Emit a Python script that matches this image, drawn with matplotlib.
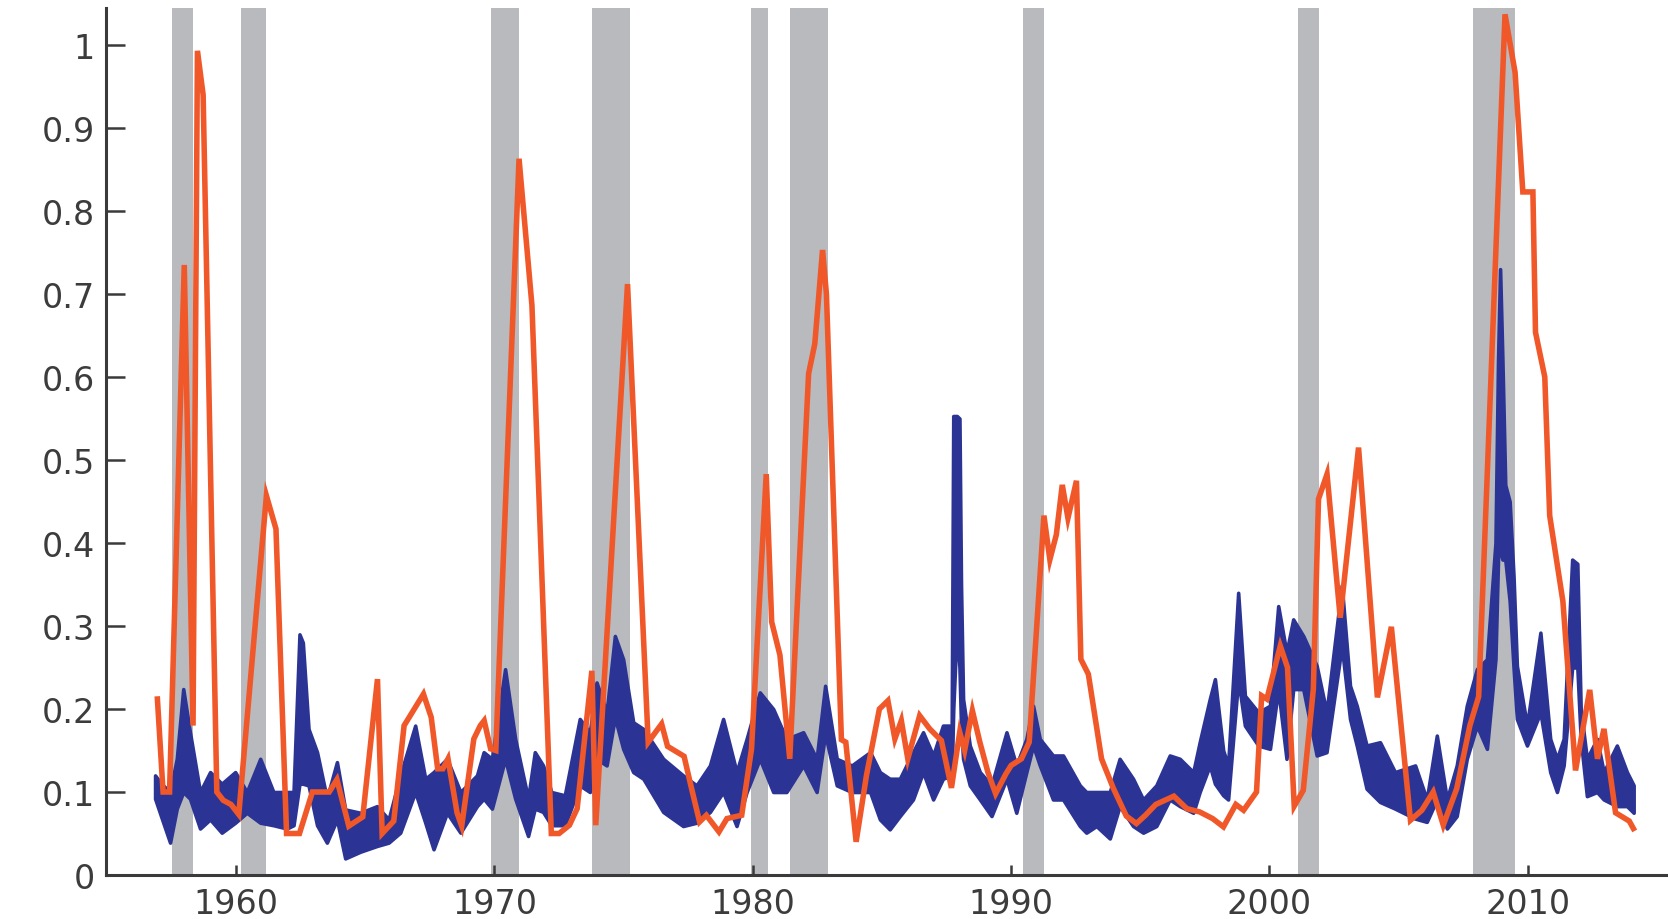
import matplotlib
matplotlib.use("Agg")
import matplotlib.pyplot as plt

# ---------------- data ----------------
recession_start = [1957.50, 1960.20, 1969.85, 1973.77, 1979.92, 1981.43, 1990.46, 2001.12, 2007.88]
recession_end   = [1958.34, 1961.17, 1970.95, 1975.25, 1980.57, 1982.92, 1991.27, 2001.93, 2009.50]

# macro uncertainty (orange)
macro_year = [1956.95, 1957.17, 1957.42, 1957.99, 1958.33, 1958.50, 1958.72, 1959.25, 1959.50, 1959.80,
              1960.10, 1961.17, 1961.54, 1961.95, 1962.45, 1962.95, 1963.60, 1963.90, 1964.36, 1964.90,
              1965.47, 1965.65, 1966.10, 1966.50, 1967.25, 1967.55, 1967.80, 1968.00, 1968.20, 1968.55,
              1968.73, 1969.20, 1969.45, 1969.60, 1969.85, 1970.05, 1970.95, 1971.45, 1972.20, 1972.50,
              1972.90, 1973.20, 1973.77, 1973.92, 1975.15, 1975.95, 1976.47, 1976.70, 1977.34, 1977.60,
              1977.94, 1978.20, 1978.69, 1979.00, 1979.57, 1979.95, 1980.52, 1980.73, 1981.05, 1981.43,
              1982.16, 1982.40, 1982.70, 1982.85, 1983.43, 1983.60, 1984.00, 1984.40, 1984.90, 1985.23,
              1985.50, 1985.75, 1986.00, 1986.46, 1986.85, 1987.30, 1987.69, 1988.01, 1988.20, 1988.50,
              1988.79, 1989.10, 1989.40, 1989.80, 1990.00, 1990.40, 1990.70, 1991.27, 1991.50, 1991.75,
              1991.98, 1992.20, 1992.53, 1992.70, 1992.99, 1993.50, 1993.95, 1994.46, 1994.85, 1995.20,
              1995.60, 1996.30, 1996.80, 1997.30, 1997.80, 1998.22, 1998.70, 1999.00, 1999.50, 1999.70,
              1999.90, 2000.42, 2000.70, 2000.96, 2001.31, 2001.70, 2001.90, 2002.23, 2002.74, 2003.45,
              2004.18, 2004.72, 2005.10, 2005.46, 2005.90, 2006.34, 2006.73, 2007.25, 2007.76, 2008.10,
              2009.12, 2009.51, 2009.81, 2010.20, 2010.30, 2010.66, 2010.85, 2011.36, 2011.85, 2012.40,
              2012.70, 2012.95, 2013.40, 2013.93, 2014.09]
macro_val  = [0.212, 0.100, 0.100, 0.735, 0.180, 0.993, 0.940, 0.100, 0.090, 0.085,
              0.073, 0.457, 0.417, 0.050, 0.050, 0.100, 0.100, 0.115, 0.059, 0.070,
              0.236, 0.050, 0.065, 0.180, 0.218, 0.190, 0.128, 0.128, 0.140, 0.075,
              0.059, 0.164, 0.180, 0.186, 0.152, 0.150, 0.863, 0.686, 0.050, 0.050,
              0.060, 0.080, 0.246, 0.060, 0.712, 0.160, 0.182, 0.155, 0.143, 0.108,
              0.064, 0.072, 0.052, 0.068, 0.072, 0.152, 0.483, 0.305, 0.265, 0.140,
              0.604, 0.640, 0.753, 0.700, 0.163, 0.160, 0.040, 0.120, 0.200, 0.210,
              0.164, 0.186, 0.140, 0.192, 0.176, 0.162, 0.105, 0.172, 0.150, 0.198,
              0.160, 0.124, 0.098, 0.122, 0.132, 0.140, 0.160, 0.433, 0.380, 0.410,
              0.470, 0.430, 0.475, 0.260, 0.242, 0.140, 0.105, 0.071, 0.062, 0.072,
              0.085, 0.095, 0.080, 0.076, 0.068, 0.058, 0.085, 0.078, 0.100, 0.216,
              0.212, 0.276, 0.250, 0.083, 0.102, 0.224, 0.453, 0.483, 0.310, 0.515,
              0.214, 0.299, 0.180, 0.066, 0.078, 0.100, 0.060, 0.104, 0.180, 0.215,
              1.037, 0.967, 0.823, 0.823, 0.654, 0.600, 0.433, 0.330, 0.126, 0.223,
              0.140, 0.176, 0.075, 0.065, 0.056]

# financial volatility (blue): lower / upper envelope of the daily series
fin_year = [1956.86, 1957.10, 1957.44, 1957.70, 1957.95, 1958.21, 1958.60, 1958.99, 1959.44, 1959.96,
            1960.41, 1960.93, 1961.44, 1961.96, 1962.22, 1962.45, 1962.58, 1962.80, 1963.13, 1963.51,
            1963.90, 1964.22, 1964.80, 1965.45, 1965.90, 1966.35, 1966.93, 1967.32, 1967.64, 1968.16,
            1968.68, 1969.32, 1969.58, 1969.90, 1970.41, 1970.80, 1971.30, 1971.56, 1971.88, 1972.20,
            1972.72, 1973.30, 1973.69, 1973.95, 1974.34, 1974.66, 1974.98, 1975.37, 1975.76, 1976.53,
            1977.30, 1977.82, 1978.34, 1978.85, 1979.37, 1979.76, 1980.27, 1980.79, 1981.30, 1981.95,
            1982.47, 1982.80, 1983.25, 1983.83, 1984.54, 1984.92, 1985.30, 1985.69, 1986.20, 1986.59,
            1986.98, 1987.36, 1987.70, 1987.76, 1987.90, 1988.00, 1988.06, 1988.14, 1988.40, 1988.79,
            1989.24, 1989.82, 1990.20, 1990.59, 1990.85, 1991.11, 1991.62, 1992.01, 1992.66, 1992.91,
            1993.30, 1993.82, 1994.20, 1994.72, 1995.11, 1995.62, 1996.14, 1996.53, 1997.05, 1997.30,
            1997.69, 1997.89, 1998.21, 1998.40, 1998.79, 1999.05, 1999.57, 2000.02, 2000.34, 2000.66,
            2000.92, 2001.31, 2001.83, 2002.21, 2002.80, 2003.12, 2003.38, 2003.76, 2004.28, 2004.86,
            2005.64, 2006.09, 2006.48, 2006.87, 2007.25, 2007.64, 2008.03, 2008.42, 2008.75, 2008.85,
            2008.93, 2009.02, 2009.13, 2009.30, 2009.45, 2009.58, 2009.97, 2010.49, 2010.87, 2011.13,
            2011.39, 2011.72, 2011.92, 2012.05, 2012.29, 2012.68, 2012.94, 2013.45, 2013.84, 2014.10]
fin_low  = [0.092, 0.070, 0.039, 0.080, 0.100, 0.092, 0.056, 0.067, 0.051, 0.063,
            0.075, 0.063, 0.060, 0.056, 0.060, 0.110, 0.110, 0.108, 0.060, 0.039,
            0.067, 0.020, 0.028, 0.035, 0.039, 0.051, 0.100, 0.063, 0.031, 0.075,
            0.051, 0.083, 0.092, 0.080, 0.140, 0.092, 0.047, 0.080, 0.076, 0.060,
            0.060, 0.108, 0.100, 0.140, 0.132, 0.190, 0.152, 0.124, 0.116, 0.076,
            0.059, 0.063, 0.076, 0.100, 0.059, 0.100, 0.140, 0.100, 0.100, 0.132,
            0.100, 0.170, 0.108, 0.100, 0.100, 0.067, 0.055, 0.071, 0.091, 0.124,
            0.091, 0.116, 0.120, 0.200, 0.300, 0.250, 0.180, 0.140, 0.108, 0.091,
            0.071, 0.116, 0.075, 0.124, 0.156, 0.132, 0.091, 0.091, 0.059, 0.051,
            0.059, 0.044, 0.083, 0.059, 0.051, 0.059, 0.091, 0.083, 0.075, 0.100,
            0.132, 0.110, 0.096, 0.091, 0.236, 0.180, 0.156, 0.152, 0.224, 0.140,
            0.224, 0.224, 0.144, 0.148, 0.276, 0.188, 0.156, 0.104, 0.088, 0.080,
            0.068, 0.064, 0.091, 0.056, 0.071, 0.140, 0.180, 0.152, 0.260, 0.380,
            0.400, 0.380, 0.380, 0.330, 0.250, 0.188, 0.156, 0.196, 0.124, 0.100,
            0.132, 0.250, 0.250, 0.164, 0.095, 0.100, 0.091, 0.083, 0.083, 0.075]
fin_high = [0.120, 0.110, 0.100, 0.140, 0.224, 0.172, 0.100, 0.124, 0.110, 0.124,
            0.100, 0.140, 0.100, 0.100, 0.100, 0.290, 0.280, 0.176, 0.148, 0.092,
            0.136, 0.079, 0.075, 0.083, 0.067, 0.120, 0.180, 0.116, 0.124, 0.140,
            0.100, 0.120, 0.148, 0.140, 0.248, 0.164, 0.092, 0.148, 0.132, 0.100,
            0.096, 0.188, 0.172, 0.232, 0.196, 0.288, 0.260, 0.184, 0.176, 0.140,
            0.120, 0.108, 0.132, 0.188, 0.124, 0.164, 0.220, 0.200, 0.164, 0.172,
            0.140, 0.228, 0.140, 0.132, 0.148, 0.124, 0.116, 0.116, 0.148, 0.172,
            0.144, 0.180, 0.180, 0.553, 0.553, 0.550, 0.350, 0.212, 0.156, 0.124,
            0.108, 0.172, 0.132, 0.164, 0.204, 0.164, 0.144, 0.144, 0.108, 0.100,
            0.100, 0.100, 0.140, 0.116, 0.091, 0.108, 0.144, 0.140, 0.124, 0.160,
            0.212, 0.236, 0.150, 0.132, 0.340, 0.216, 0.196, 0.204, 0.324, 0.268,
            0.308, 0.288, 0.252, 0.196, 0.349, 0.228, 0.204, 0.156, 0.160, 0.124,
            0.132, 0.091, 0.168, 0.091, 0.132, 0.204, 0.248, 0.260, 0.400, 0.620,
            0.730, 0.620, 0.470, 0.450, 0.360, 0.252, 0.180, 0.292, 0.164, 0.140,
            0.164, 0.380, 0.375, 0.200, 0.140, 0.164, 0.124, 0.156, 0.124, 0.108]

y_ticks = [0, 0.1, 0.2, 0.3, 0.4, 0.5, 0.6, 0.7, 0.8, 0.9, 1]
y_tick_labels = ["0", "0.1", "0.2", "0.3", "0.4", "0.5", "0.6", "0.7", "0.8", "0.9", "1"]
x_ticks = [1960, 1970, 1980, 1990, 2000, 2010]
x_tick_labels = ["1960", "1970", "1980", "1990", "2000", "2010"]

# ---------------- styling ----------------
ORANGE = "#f0582a"
BLUE = "#2b3494"
BAND = "#b9babe"
AXIS = "#3a3a3a"
TEXT = "#3c3c3c"

plt.rcParams['font.family'] = ['DejaVu Sans']

W, H = 1668, 920
fig = plt.figure(figsize=(W / 100, H / 100), dpi=100)
ax = fig.add_axes([106 / W, 44 / H, 1 - 106 / W, (876 - 9) / H])

for s, e in zip(recession_start, recession_end):
    ax.axvspan(s, e, color=BAND, lw=0, zorder=1)

ax.fill_between(fin_year, fin_low, fin_high, color=BLUE, lw=2.6, edgecolor=BLUE,
                joinstyle='round', zorder=2)
ax.plot(macro_year, macro_val, color=ORANGE, lw=4.0, solid_joinstyle='miter', zorder=3)

ax.set_xlim(1954.96, 2015.43)
ax.set_ylim(0, 1.0446)

for side in ("top", "right"):
    ax.spines[side].set_visible(False)
for side in ("left", "bottom"):
    ax.spines[side].set_color(AXIS)
    ax.spines[side].set_linewidth(2.2)

ax.set_yticks(y_ticks)
ax.set_yticklabels(y_tick_labels)
ax.set_xticks(x_ticks)
ax.set_xticklabels(x_tick_labels)
ax.tick_params(axis='y', direction='in', length=14, width=1.8, color=AXIS,
               labelsize=24, labelcolor=TEXT, pad=8)
ax.tick_params(axis='x', direction='in', length=7, width=1.8, color=AXIS,
               labelsize=24, labelcolor=TEXT, pad=9)

fig.savefig("out.png", dpi=100)
